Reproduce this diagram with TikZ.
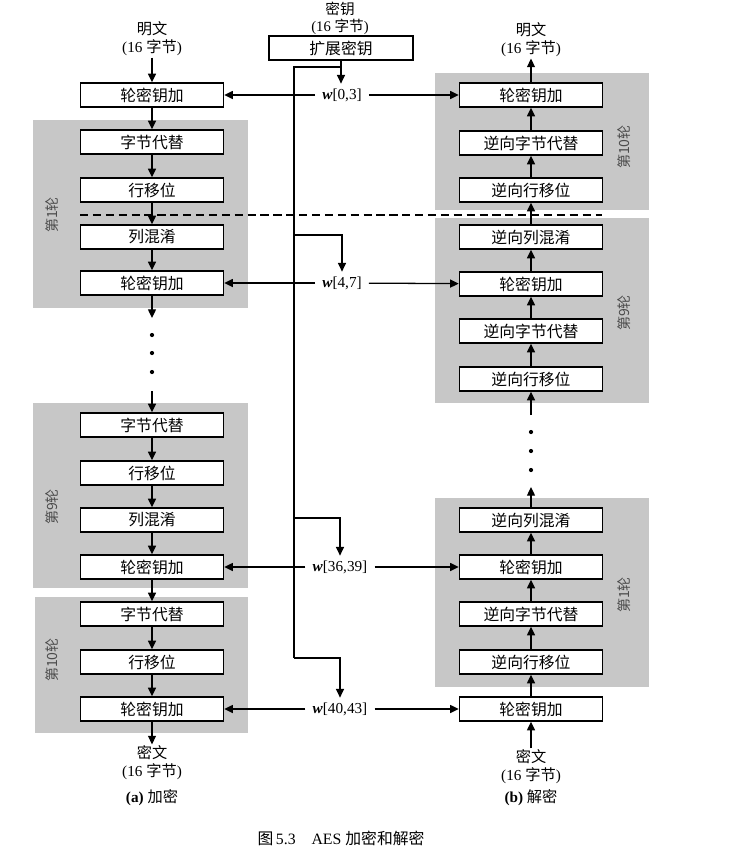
\documentclass[tikz,border=0pt]{standalone}
\usepackage{fontspec}
\setmainfont{Liberation Serif}
\newfontfamily\cjk{Noto Sans CJK SC}
\newcommand{\zh}[1]{{\cjk #1}}
\colorlet{RoundSurface}{black!22}
\colorlet{RoundText}{black!70}
\usetikzlibrary{arrows.meta}

\tikzset{
  stage/.style = {draw, line width=1.2pt, fill=white, minimum width=4.29cm,
    minimum height=0.72cm, inner sep=0pt, font=\cjk\fontsize{13.5}{16}\selectfont},
  flow/.style = {line width=1.1pt, -{Triangle[length=2.6mm, width=2.4mm]}},
  note/.style = {align=center, inner sep=1pt, font=\fontsize{13}{15.5}\selectfont},
  keyword/.style = {inner xsep=6pt, inner ysep=4pt, font=\fontsize{13}{15}\selectfont},
  roundname/.style = {rotate=90, text=RoundText, font=\cjk\fontsize{12}{14}\selectfont},
}

\begin{document}
\begin{tikzpicture}[x=0.03cm, y=-0.03cm]
\useasboundingbox (0,0) rectangle (734,860);

% grey round areas
\fill[RoundSurface] (33,120) rectangle (248,308);
\fill[RoundSurface] (33,403) rectangle (248,588);
\fill[RoundSurface] (35,597) rectangle (248,733);
\fill[RoundSurface] (435,73) rectangle (649,210);
\fill[RoundSurface] (435,218) rectangle (649,403);
\fill[RoundSurface] (435,498) rectangle (649,687);

\node[roundname] (L1) at (52,215) {第1轮};
\node[roundname] (L9) at (52,507) {第9轮};
\node[roundname] (L10) at (52,660) {第10轮};
\node[roundname] (R10) at (624,147) {第10轮};
\node[roundname] (R9) at (624,313) {第9轮};
\node[roundname] (R1) at (624,595) {第1轮};

% (a) encryption
\node[note] (PA) at (152,39) {\zh{明文}\\(16 \zh{字节})};
\node[stage] (EA0) at (152,95) {轮密钥加};
\node[stage] (ES1) at (152,142) {字节代替};
\node[stage] (ER1) at (152,190) {行移位};
\node[stage] (EM1) at (152,237) {列混淆};
\node[stage] (EA1) at (152,283) {轮密钥加};
\coordinate (EGap1) at (152,318);
\coordinate (EGap9) at (152,391);
\node[stage] (ES9) at (152,425) {字节代替};
\node[stage] (ER9) at (152,473) {行移位};
\node[stage] (EM9) at (152,520) {列混淆};
\node[stage] (EA9) at (152,567) {轮密钥加};
\node[stage] (ES10) at (152,614) {字节代替};
\node[stage] (ER10) at (152,662) {行移位};
\node[stage] (EA10) at (152,709) {轮密钥加};
\node[note] (CA) at (152,763) {\zh{密文}\\(16 \zh{字节})};
\node[note] (SubA) at (152,798) {\textbf{(a)} \zh{加密}};

\draw[flow] (PA) -- (EA0);
\draw[flow] (EA0) -- (ES1);
\draw[flow] (ES1) -- (ER1);
\draw[flow] (ER1) -- (EM1);
\draw[flow] (EM1) -- (EA1);
\draw[flow] (EA1) -- (EGap1);
\fill (152,335) circle (1.8pt);
\fill (152,353) circle (1.8pt);
\fill (152,372) circle (1.8pt);
\draw[flow] (EGap9) -- (ES9);
\draw[flow] (ES9) -- (ER9);
\draw[flow] (ER9) -- (EM9);
\draw[flow] (EM9) -- (EA9);
\draw[flow] (EA9) -- (ES10);
\draw[flow] (ES10) -- (ER10);
\draw[flow] (ER10) -- (EA10);
\draw[flow] (EA10) -- (CA);

% (b) decryption
\node[note] (PB) at (531,40) {\zh{明文}\\(16 \zh{字节})};
\node[stage] (DA10) at (531,95) {轮密钥加};
\node[stage] (DS10) at (531,143) {逆向字节代替};
\node[stage] (DR10) at (531,190) {逆向行移位};
\node[stage] (DM9) at (531,237) {逆向列混淆};
\node[stage] (DA9) at (531,284) {轮密钥加};
\node[stage] (DS9) at (531,331) {逆向字节代替};
\node[stage] (DR9) at (531,379) {逆向行移位};
\coordinate (DGap9) at (531,415);
\coordinate (DGap1) at (531,487);
\node[stage] (DM1) at (531,520) {逆向列混淆};
\node[stage] (DA1) at (531,567) {轮密钥加};
\node[stage] (DS1) at (531,614) {逆向字节代替};
\node[stage] (DR1) at (531,662) {逆向行移位};
\node[stage] (DA0) at (531,709) {轮密钥加};
\node[note] (CB) at (531,767) {\zh{密文}\\(16 \zh{字节})};
\node[note] (SubB) at (531,798) {\textbf{(b)} \zh{解密}};

\draw[flow] (DA10) -- (PB);
\draw[flow] (DS10) -- (DA10);
\draw[flow] (DR10) -- (DS10);
\draw[flow] (DM9) -- (DR10);
\draw[flow] (DA9) -- (DM9);
\draw[flow] (DS9) -- (DA9);
\draw[flow] (DR9) -- (DS9);
\draw[flow] (DGap9) -- (DR9);
\fill (531,432) circle (1.8pt);
\fill (531,451) circle (1.8pt);
\fill (531,470) circle (1.8pt);
\draw[flow] (DM1) -- (DGap1);
\draw[flow] (DA1) -- (DM1);
\draw[flow] (DS1) -- (DA1);
\draw[flow] (DR1) -- (DS1);
\draw[flow] (DA0) -- (DR1);
\draw[flow] (CB) -- (DA0);

% key schedule
\node[note, font=\fontsize{12.5}{14.5}\selectfont] (KIn) at (340,18) {\zh{密钥}\\(16 \zh{字节})};
\node[stage, minimum width=4.32cm] (K) at (341,48) {扩展密钥};
\node[keyword] (W0) at (342,95) {\textbf{\textit{w}}[0,3]};
\node[keyword] (W4) at (342,283) {\textbf{\textit{w}}[4,7]};
\node[keyword] (W36) at (340,567) {\textbf{\textit{w}}[36,39]};
\node[keyword] (W40) at (340,709) {\textbf{\textit{w}}[40,43]};
\coordinate (KTop) at (294,67);
\coordinate (KB4) at (294,235);
\coordinate (KB36) at (294,518);
\coordinate (KBot) at (294,658);

\draw[line width=1.1pt] (K.south |- KTop) -- (KTop) -- (KBot);
\draw[flow] (K.south) -- (K.south |- W0.north);
\draw[flow] (KB4) -| (W4.north);
\draw[flow] (KB36) -| (W36.north);
\draw[flow] (KBot) -| (W40.north);

\draw[flow] (W0) -- (EA0);
\draw[flow] (W0) -- (DA10);
\draw[flow] (W4) -- (EA1);
\draw[flow] (W4) -- (DA9);
\draw[flow] (W36) -- (EA9);
\draw[flow] (W36) -- (DA1);
\draw[flow] (W40) -- (EA10);
\draw[flow] (W40) -- (DA0);

\coordinate (CutL) at (80,215);
\coordinate (CutR) at (602,215);
\draw[line width=0.9pt, dash pattern=on 7pt off 4pt] (CutL) -- (CutR);

\node[font=\fontsize{13.5}{16}\selectfont] (Cap) at (341,838) {\zh{图}\,5.3\quad AES \zh{加密和解密}};

\end{tikzpicture}
\end{document}
